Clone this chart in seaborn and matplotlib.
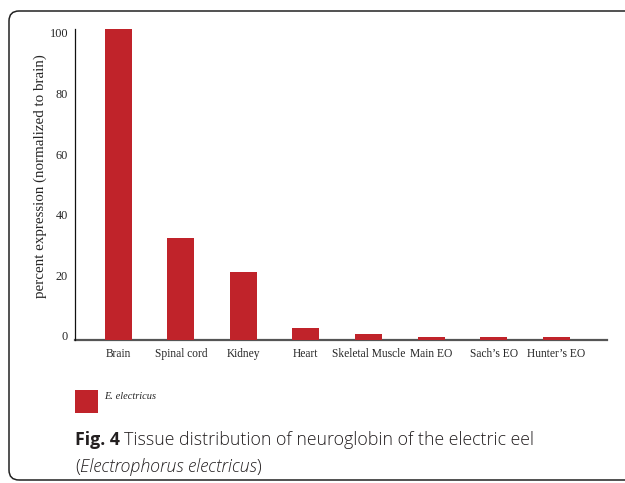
import matplotlib
matplotlib.use("Agg")
import matplotlib.pyplot as plt
import matplotlib.transforms as mtransforms
from matplotlib.patches import FancyBboxPatch, Patch
import seaborn as sns
import pandas as pd

tissues = ["Brain", "Spinal cord", "Kidney", "Heart", "Skeletal Muscle",
           "Main EO", "Sach\u2019s EO", "Hunter\u2019s EO"]
expression = [102.5, 33.7, 22.4, 4.1, 2.1, 1.0, 1.0, 1.0]
yticks = [0, 20, 40, 60, 80, 100]
series_name = "E. electricus"
bar_color = "#C0232A"

df = pd.DataFrame({"tissue": tissues, "expression": expression})

sns.set_theme(style="white")
plt.rcParams["font.family"] = ["Liberation Serif", "DejaVu Serif"]

fig = plt.figure(figsize=(6.25, 4.83), dpi=100)
ax = fig.add_axes([75 / 625, 1 - 340 / 483, (607 - 75) / 625, (340 - 29) / 483])

sns.barplot(data=df, x="tissue", y="expression", color=bar_color,
            saturation=1, width=0.43, ax=ax, zorder=3, linewidth=0, edgecolor="none")

ax.set_xlim(-0.69, 7.81)
ax.set_ylim(0, 102.6)
ax.set_yticks(yticks)
ax.set_yticklabels([str(v) for v in yticks], fontsize=8.8)
ax.set_xlabel("")
ax.set_ylabel("percent expression (normalized to brain)", fontsize=10.8)
ax.yaxis.set_label_coords(-0.052, 0.527)
ax.tick_params(axis="both", length=0)
ax.tick_params(axis="y", pad=5)
ax.tick_params(axis="x", pad=6, labelsize=8.3)
off = mtransforms.ScaledTranslation(0, 4 / 100, fig.dpi_scale_trans)
for lab in ax.get_yticklabels():
    lab.set_transform(lab.get_transform() + off)

for s in ["top", "right"]:
    ax.spines[s].set_visible(False)
ax.spines["left"].set_color("#111111")
ax.spines["left"].set_linewidth(0.9)
ax.spines["bottom"].set_color("#555555")
ax.spines["bottom"].set_linewidth(1.6)
ax.spines["bottom"].set_zorder(2)
ax.grid(False)

# legend
leg = fig.legend(handles=[Patch(facecolor=bar_color, edgecolor="none")],
                 labels=[series_name], loc="upper left",
                 bbox_to_anchor=(66 / 625, 1 - 381 / 483), frameon=False,
                 handlelength=2.2, handleheight=2.9, handletextpad=0.55,
                 prop={"family": ["Liberation Serif"], "style": "italic", "size": 7.5})
toff = mtransforms.ScaledTranslation(0, 6 / 100, fig.dpi_scale_trans)
for t in leg.get_texts():
    t.set_transform(t.get_transform() + toff)

# caption
cap_color = "#231f20"
cap_font = ["Open Sans", "DejaVu Sans"]
cap_size = 12.8
y1 = 1 - 440 / 483
y2 = 1 - 467 / 483
t1 = fig.text(75 / 625, y1, "Fig. 4", fontsize=cap_size, fontweight="bold",
              family=cap_font, color=cap_color, va="center", ha="left")
fig.canvas.draw()
r = fig.canvas.get_renderer()
bb = t1.get_window_extent(r)
fig.text((bb.x1 + 4) / 625, y1, "Tissue distribution of neuroglobin of the electric eel",
         fontsize=cap_size, family=cap_font, color=cap_color, va="center", ha="left",
         fontweight="light")
t2 = fig.text(75 / 625, y2, "(", fontsize=cap_size, family=cap_font, color=cap_color,
              va="center", ha="left", fontweight="light")
bb2 = t2.get_window_extent(r)
t3 = fig.text(bb2.x1 / 625, y2, "Electrophorus electricus", fontsize=cap_size, family=cap_font,
              style="italic", color=cap_color, va="center", ha="left", fontweight="light")
bb3 = t3.get_window_extent(r)
fig.text(bb3.x1 / 625, y2, ")", fontsize=cap_size, family=cap_font, color=cap_color,
         va="center", ha="left", fontweight="light")

# rounded frame
frame = FancyBboxPatch((0.09, 0.03), 6.4, 4.69, boxstyle="round,pad=0,rounding_size=0.1",
                       transform=fig.dpi_scale_trans, facecolor="none",
                       edgecolor="#222222", linewidth=1.1)
fig.patches.append(frame)

fig.savefig("out.png", dpi=100)
